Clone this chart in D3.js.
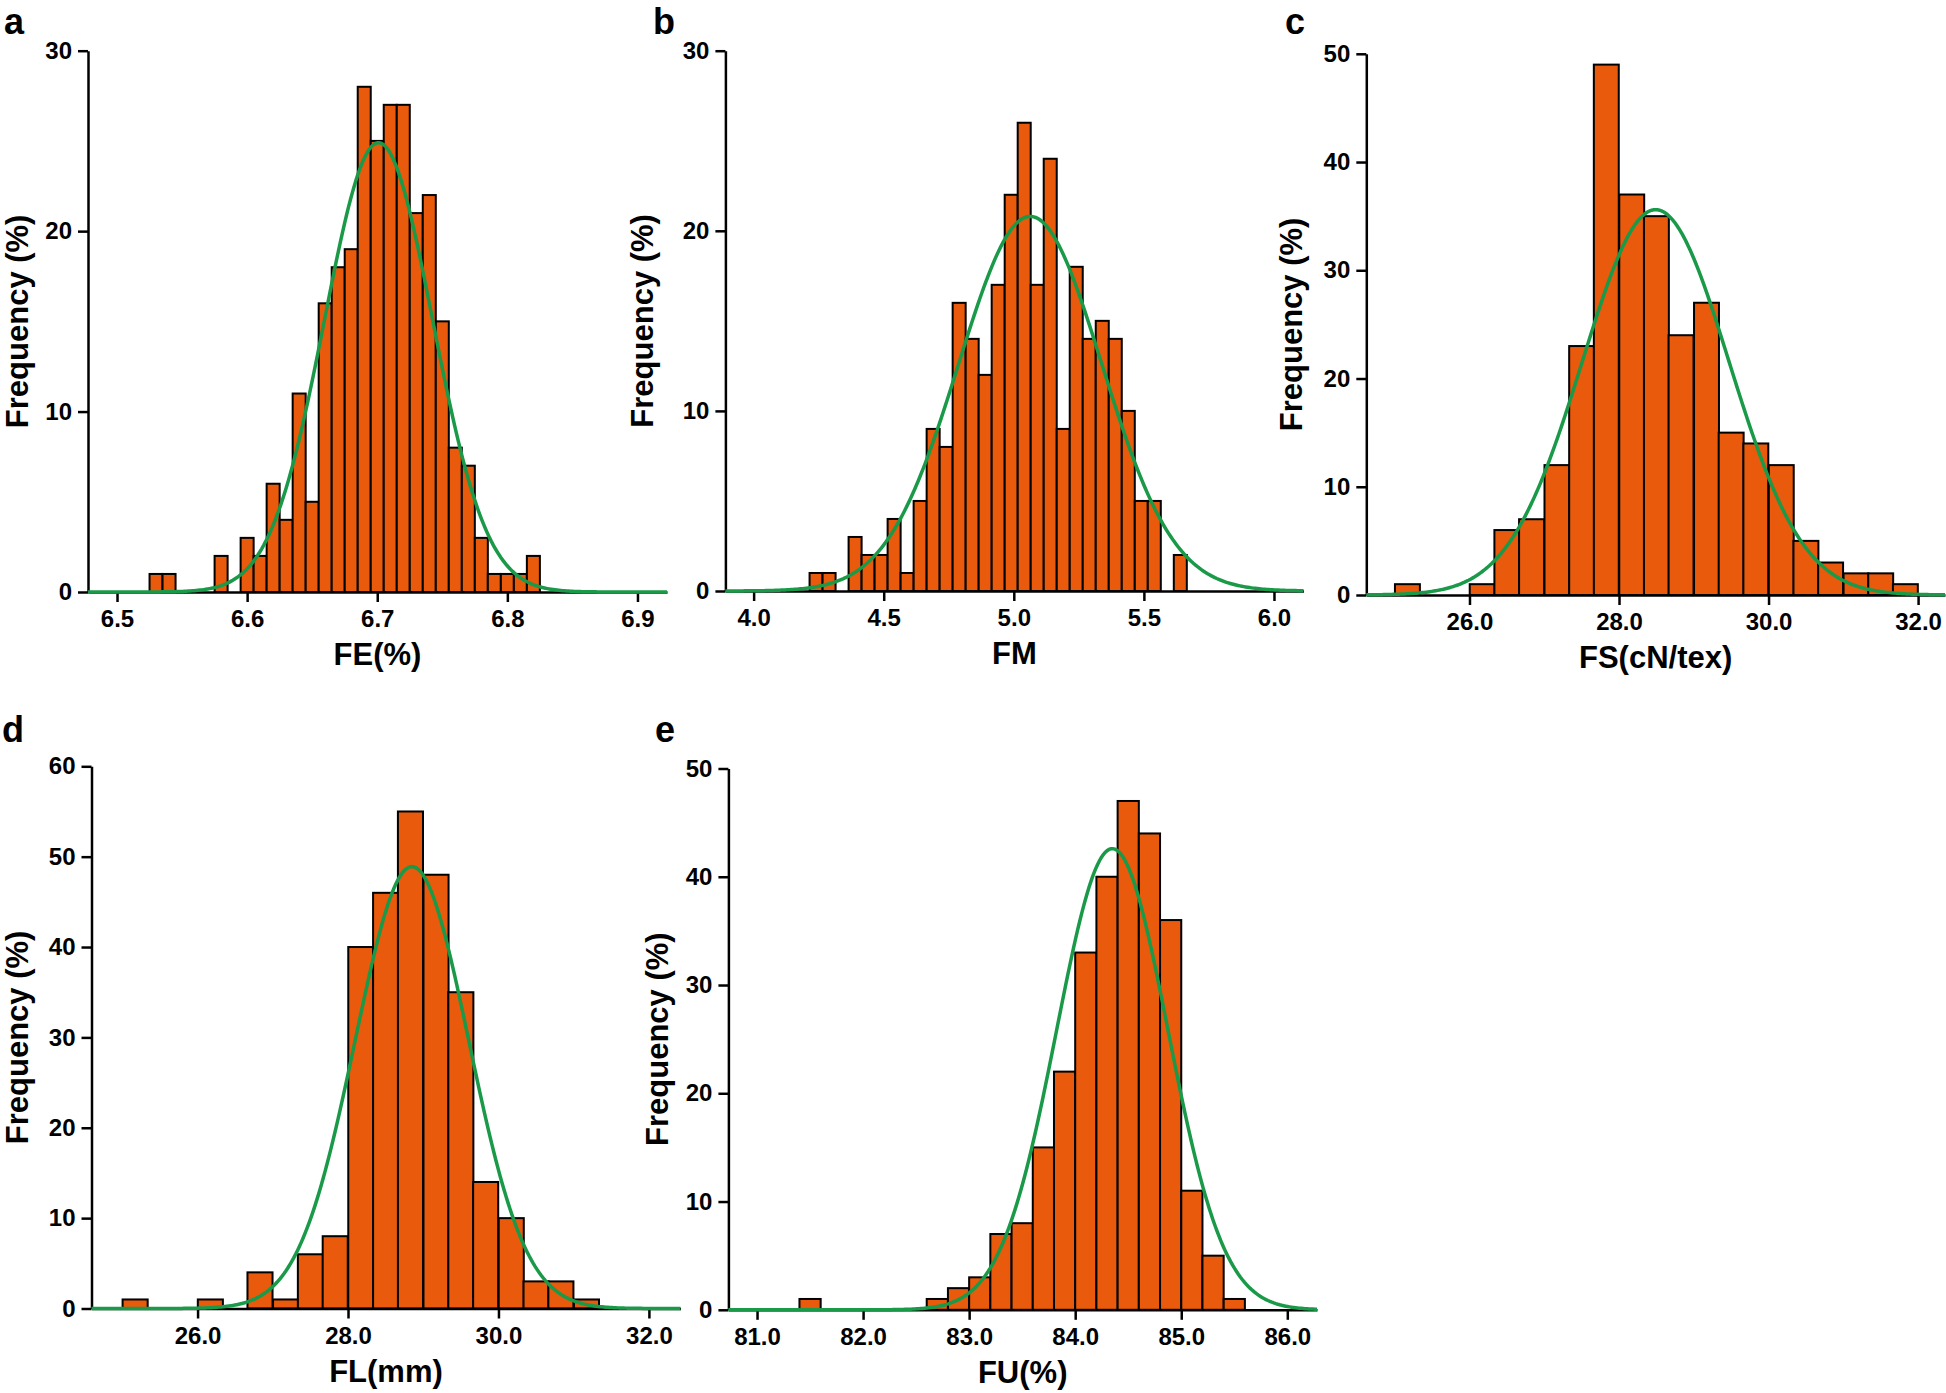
<!DOCTYPE html>
<html>
<head>
<meta charset="utf-8">
<script src="https://cdn.jsdelivr.net/npm/d3@7"></script>
<style>
  body { margin: 0; background: #fff; }
  svg text { font-family: "Liberation Sans", Arial, sans-serif; font-weight: bold; fill: #000; }
</style>
</head>
<body>
<div id="chart"></div>
<script>
// bin centres and counts
var feBins = [6.53,6.54,6.55,6.56,6.57,6.58,6.59,6.60,6.61,6.62,6.63,6.64,6.65,6.66,6.67,6.68,6.69,6.70,6.71,6.72,6.73,6.74,6.75,6.76,6.77,6.78,6.79,6.80,6.81,6.82];
var feCounts = [1,1,0,0,0,2,0,3,2,6,4,11,5,16,18,19,28,25,27,27,21,22,15,8,7,3,1,1,1,2];

var fmBins = [4.24,4.29,4.34,4.39,4.44,4.49,4.54,4.59,4.64,4.69,4.74,4.79,4.84,4.89,4.94,4.99,5.04,5.09,5.14,5.19,5.24,5.29,5.34,5.39,5.44,5.49,5.54,5.59,5.64];
var fmCounts = [1,1,0,3,2,2,4,1,5,9,8,16,14,12,17,22,26,17,24,9,18,14,15,14,10,5,5,0,2];

var fsBins = [25.17,25.50,25.83,26.17,26.50,26.83,27.17,27.50,27.83,28.17,28.50,28.83,29.17,29.50,29.83,30.17,30.50,30.83,31.17,31.50,31.83];
var fsCounts = [1,0,0,1,6,7,12,23,49,37,35,24,27,15,14,12,5,3,2,2,1];

var flBins = [25.17,25.50,25.83,26.17,26.50,26.83,27.17,27.50,27.83,28.17,28.50,28.83,29.17,29.50,29.83,30.17,30.50,30.83,31.17];
var flCounts = [1,0,0,1,0,4,1,6,8,40,46,55,48,35,14,10,3,3,1];

var fuBins = [81.5,81.7,81.9,82.1,82.3,82.5,82.7,82.9,83.1,83.3,83.5,83.7,83.9,84.1,84.3,84.5,84.7,84.9,85.1,85.3,85.5];
var fuCounts = [1,0,0,0,0,0,1,2,3,7,8,15,22,33,40,47,44,36,11,5,1];

// fitted normal curves: mean, sd, peak height
var feFit = [6.701, 0.0415, 24.9];
var fmFit = [5.063, 0.275, 20.8];
var fsFit = [28.49, 0.98, 35.6];
var flFit = [28.85, 0.755, 48.9];
var fuFit = [84.35, 0.525, 42.6];

var feTicks = [6.5,6.6,6.7,6.8,6.9];
var fmTicks = [4.0,4.5,5.0,5.5,6.0];
var fsTicks = [26,28,30,32];
var flTicks = [26,28,30,32];
var fuTicks = [81,82,83,84,85,86];

var panels = [
  {letter:"a", title:"FE(%)", bins:feBins, counts:feCounts, bw:0.01, fit:feFit, xt:feTicks,
   xd:[6.4777,6.9227], xr:[88,667], yd:[0,30], yr:[592,50.7], yt:[0,10,20,30], lx:4, ly:34, yTitleX:28},
  {letter:"b", title:"FM", bins:fmBins, counts:fmCounts, bw:0.05, fit:fmFit, xt:fmTicks,
   xd:[3.8915,6.1135], xr:[725.4,1303.5], yd:[0,30], yr:[591,50.7], yt:[0,10,20,30], lx:653, ly:34, yTitleX:653},
  {letter:"c", title:"FS(cN/tex)", bins:fsBins, counts:fsCounts, bw:1/3, fit:fsFit, xt:fsTicks,
   xd:[24.62,32.36], xr:[1366.3,1945], yd:[0,50], yr:[595,53.8], yt:[0,10,20,30,40,50], lx:1285, ly:34, yTitleX:1302},
  {letter:"d", title:"FL(mm)", bins:flBins, counts:flCounts, bw:1/3, fit:flFit, xt:flTicks,
   xd:[24.59,32.42], xr:[91.5,680.5], yd:[0,60], yr:[1308.5,766.3], yt:[0,10,20,30,40,50,60], lx:2, ly:742, yTitleX:28},
  {letter:"e", title:"FU(%)", bins:fuBins, counts:fuCounts, bw:0.2, fit:fuFit, xt:fuTicks,
   xd:[80.73,86.28], xr:[728.4,1317], yd:[0,50], yr:[1309.8,768.5], yt:[0,10,20,30,40,50], lx:655, ly:742, yTitleX:668}
];

var svg = d3.select("#chart").append("svg")
  .attr("width", 1946)
  .attr("height", 1393);

panels.forEach(function(p){
  var x = d3.scaleLinear().domain(p.xd).range(p.xr);
  var y = d3.scaleLinear().domain(p.yd).range(p.yr);
  var g = svg.append("g");

  g.selectAll("rect.bar")
    .data(p.bins.map(function(b,i){ return {c:b, n:p.counts[i]}; }).filter(function(d){ return d.n > 0; }))
    .enter().append("rect")
    .attr("class","bar")
    .attr("x", function(d){ return x(d.c - p.bw/2); })
    .attr("width", function(d){ return x(d.c + p.bw/2) - x(d.c - p.bw/2); })
    .attr("y", function(d){ return y(d.n); })
    .attr("height", function(d){ return y(0) - y(d.n); })
    .attr("fill","#e95a0c")
    .attr("stroke","#000")
    .attr("stroke-width",2);

  var xAxis = g.append("g")
    .attr("transform","translate(0,"+y(0)+")")
    .call(d3.axisBottom(x).tickValues(p.xt).tickFormat(d3.format(".1f")).tickSize(10).tickSizeOuter(0).tickPadding(8));
  var yAxis = g.append("g")
    .attr("transform","translate("+p.xr[0]+",0)")
    .call(d3.axisLeft(y).tickValues(p.yt).tickSize(10).tickSizeOuter(0).tickPadding(6));
  [xAxis, yAxis].forEach(function(a){
    a.selectAll("path, line").attr("stroke","#000").attr("stroke-width",2.5);
    a.selectAll("text").attr("font-size",24).attr("fill","#000");
  });

  // normal curve across the whole axis
  var xs = d3.range(0, 301).map(function(i){ return p.xd[0] + (p.xd[1]-p.xd[0])*i/300; });
  var line = d3.line()
    .x(function(v){ return x(v); })
    .y(function(v){ var z = (v - p.fit[0])/p.fit[1]; return y(p.fit[2]*Math.exp(-0.5*z*z)); });
  g.append("path")
    .datum(xs)
    .attr("d", line)
    .attr("fill","none")
    .attr("stroke","#1a9a48")
    .attr("stroke-width",3.5);

  g.append("text")
    .attr("x", (p.xr[0]+p.xr[1])/2)
    .attr("y", y(0)+73)
    .attr("text-anchor","middle")
    .attr("font-size",31)
    .text(p.title);

  g.append("text")
    .attr("transform","translate("+p.yTitleX+","+((p.yr[0]+p.yr[1])/2)+") rotate(-90)")
    .attr("text-anchor","middle")
    .attr("font-size",31)
    .text("Frequency (%)");

  g.append("text")
    .attr("x", p.lx)
    .attr("y", p.ly)
    .attr("font-size",36)
    .text(p.letter);
});
</script>
</body>
</html>
